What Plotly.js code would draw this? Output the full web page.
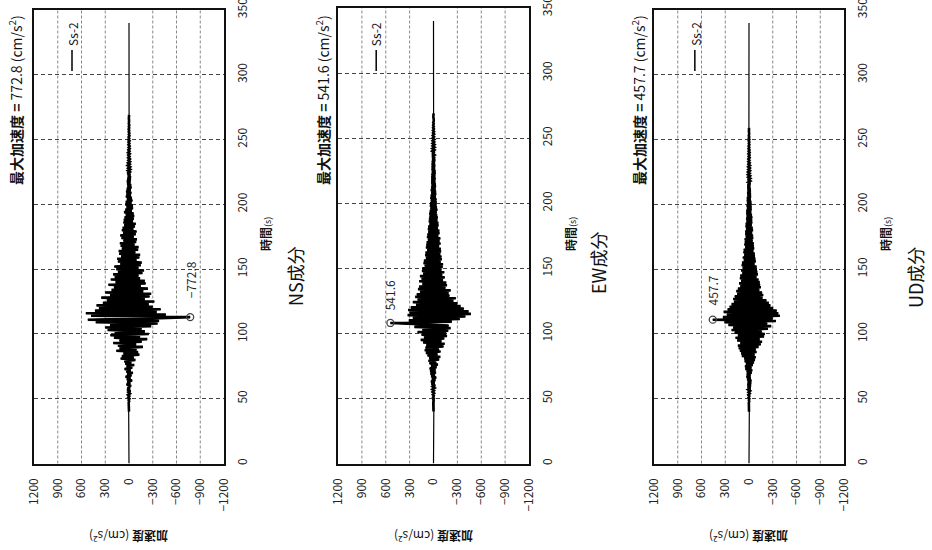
<!DOCTYPE html>
<html>
<head>
<meta charset="utf-8">
<script src="https://cdn.plot.ly/plotly-3.0.1.min.js"></script>
<style>html,body{margin:0;padding:0;background:#fff;}#chart{width:932px;height:550px;}</style>
</head>
<body>
<div id="chart"></div>
<script>
// ---- data ----
const COMPONENTS = ['NS成分', 'EW成分', 'UD成分'];
const LEGEND_NAME = 'Ss-2';
const PEAK_VALUES = [-772.8, 541.6, 457.7];
const PEAK_TIMES = [113, 108, 111];
const T_START = 40, T_STEP = 1, T_END = 340;
const ACC_TICKS = [1200, 900, 600, 300, 0, -300, -600, -900, -1200];
const ACC_LABELS = ['1200', '900', '600', '300', '0', '−300', '−600', '−900', '−1200'];
const ACC_GRID = [900, 600, 300, -300, -600, -900];
const TIME_TICKS = [0, 50, 100, 150, 200, 250, 300, 350];

const NS_ACC = [
  0,1,-1,2,-1,3,-2,4,-3,5,
  -6,10,-4,14,-12,8,-18,22,-10,16,
  -25,30,-14,20,-38,26,-18,42,-30,22,
  -48,35,-20,55,-40,30,-65,48,-28,60,
  -80,105,-60,90,-130,70,-115,160,-95,120,
  -175,140,-90,200,-160,120,-230,190,-140,235,
  -250,180,-200,270,-160,300,-280,240,-360,420,
  -380,520,-300,-772.8,480,-465,545,-350,430,-400,
  380,-300,410,-250,330,-320,280,-200,350,-260,
  240,-280,300,-180,220,-240,190,-150,260,-210,
  170,-200,230,-140,180,-120,200,-170,140,-190,
  160,-120,185,-150,110,-160,140,-95,150,-130,
  100,-140,125,-80,130,-115,90,-120,105,-70,
  115,-90,70,-100,95,-60,110,-85,75,-95,
  90,-55,80,-75,60,-85,70,-50,65,-60,
  55,-65,40,-58,62,-35,45,-50,30,-48,
  45,-30,40,-42,25,-35,38,-22,30,-28,
  35,-20,26,-30,18,-25,22,-16,24,-20,
  18,-22,12,-16,20,-10,14,-15,10,-13,
  16,-9,12,-12,8,-11,10,-7,9,-10,
  12,-6,8,-9,5,-8,7,-5,6,-7,
  8,-4,5,-6,3,-5,4,-3,5,-3,
  3,-4,2,-2,3,-1,2,-1,1,-1
];
const EW_ACC = [
  0,1,-1,1,-2,1,-2,3,-2,3,
  -5,6,-4,9,-8,12,-6,15,-14,10,
  -20,24,-12,30,-22,18,-32,28,-16,36,
  -30,42,-24,48,-38,30,-55,50,-35,62,
  -70,55,-85,75,-50,95,-88,110,-70,100,
  -125,90,-140,130,-100,160,-135,120,-170,150,
  -160,200,-185,140,-215,240,-190,280,541.6,-230,
  310,-330,260,-400,325,-470,300,-440,320,-380,
  285,-340,220,-300,260,-250,200,-280,230,-200,
  210,-190,170,-215,195,-150,180,-170,140,-160,
  180,-120,150,-140,170,-110,130,-135,145,-100,
  140,-115,110,-120,125,-90,120,-105,95,-100,
  105,-85,100,-95,80,-92,95,-70,90,-88,
  85,-75,70,-85,82,-60,76,-75,65,-72,
  70,-55,66,-62,50,-60,58,-48,56,-54,
  50,-45,52,-40,46,-48,38,-42,44,-36,
  40,-38,32,-36,38,-28,33,-32,26,-30,
  32,-24,28,-29,22,-26,27,-20,25,-24,
  25,-20,23,-24,18,-22,21,-16,20,-19,
  20,-15,18,-19,14,-17,16,-12,16,-14,
  15,-11,14,-13,10,-12,12,-8,11,-10,
  10,-7,9,-8,6,-7,7,-5,6,-4,
  5,-3,4,-3,2,-2,2,-1,1,-1
];
const UD_ACC = [
  0,1,-1,1,-1,2,-1,2,-3,2,
  -5,6,-4,9,-10,7,-14,12,-18,15,
  -22,18,-25,14,-28,22,-20,30,-18,26,
  -32,28,-40,45,-30,50,-48,38,-62,55,
  -75,60,-85,90,-70,100,-95,115,-85,130,
  -120,140,-150,110,-165,150,-135,170,-190,140,
  -200,180,-160,220,-240,200,-280,260,-230,310,
  -340,457.7,-300,330,-390,280,-370,320,-350,270,
  -305,245,-270,220,-250,190,-220,200,-170,180,
  -180,150,-165,160,-130,140,-150,110,-140,125,
  -135,100,-120,115,-95,110,-112,85,-105,100,
  -100,80,-95,92,-70,88,-85,65,-80,78,
  -75,60,-72,70,-55,66,-64,48,-60,58,
  -58,52,-45,54,-52,40,-50,46,-38,48,
  -50,36,-45,42,-34,40,-40,30,-38,35,
  -40,28,-35,33,-26,32,-31,24,-30,28,
  -30,22,-27,25,-19,24,-23,17,-21,20,
  -20,15,-18,18,-12,16,-16,11,-15,14,
  -15,10,-13,13,-9,12,-12,8,-11,10,
  -12,7,-9,9,-6,8,-8,5,-7,7,
  -8,5,-6,6,-4,5,-5,3,-4,4,
  -5,3,-3,3,-2,2,-2,1,-1,1
];
const SERIES = [NS_ACC, EW_ACC, UD_ACC];

// ---- layout geometry (pixels of the 932x550 page) ----
const W = 932, H = 550;
const PANELS = [
  {left: 34,  right: 224, top: 10, bottom: 463.5, titleDx: -19},
  {left: 338, right: 529, top: 8,  bottom: 463.5, titleDx: -16},
  {left: 654, right: 844, top: 10, bottom: 463.5, titleDx: -16}
];
const COMP_POS = [{dx: 71, cy: 276}, {dx: 69, cy: 263}, {dx: 71, cy: 278}];
const PEAK_SHIFT = [37, 28, 29];
const LEGEND_X = [0.2, 0.2, 0.215];
const FONT = '"Noto Sans CJK JP", "Noto Sans", sans-serif';

const traces = [];
const layout = {
  width: W, height: H,
  margin: {l: 0, r: 0, t: 0, b: 0},
  paper_bgcolor: '#fff', plot_bgcolor: '#fff',
  showlegend: false,
  font: {family: FONT, color: '#222'},
  annotations: [], shapes: []
};

SERIES.forEach((vals, i) => {
  const n = i === 0 ? '' : String(i + 1);
  const xa = 'x' + n, ya = 'y' + n;
  const p = PANELS[i];
  const sampleTimes = vals.map((_, k) => T_START + k * T_STEP);
  const times = [0].concat(sampleTimes, [T_END]);
  const accs = [0].concat(vals, [0]);
  // thin full-length record (incl. quiet lead-in and tail)
  traces.push({
    type: 'scatter', mode: 'lines', x: accs, y: times, xaxis: xa, yaxis: ya,
    line: {color: '#000', width: 1.2}, hoverinfo: 'skip', name: LEGEND_NAME
  });
  // same samples stroked wider so the dense record reads as a solid band
  traces.push({
    type: 'scatter', mode: 'lines', x: vals, y: sampleTimes, xaxis: xa, yaxis: ya,
    line: {color: '#000', width: 2.6}, hoverinfo: 'skip', name: LEGEND_NAME
  });
  traces.push({
    type: 'scatter', mode: 'markers', x: [PEAK_VALUES[i]], y: [PEAK_TIMES[i]], xaxis: xa, yaxis: ya,
    marker: {symbol: 'circle-open', size: 7, color: '#444', line: {width: 1.3, color: '#444'}},
    hoverinfo: 'skip'
  });
  const dx = [p.left / W, p.right / W];
  const dy = [1 - p.bottom / H, 1 - p.top / H];
  layout['xaxis' + n] = {
    domain: dx, range: [1200, -1200], anchor: ya,
    tickmode: 'array', tickvals: ACC_TICKS, ticktext: ACC_LABELS,
    tickangle: -90, ticks: 'outside', ticklen: 8, tickcolor: 'rgba(0,0,0,0)',
    tickfont: {size: 12, color: '#222', family: FONT},
    showgrid: false, zeroline: false, ticklabeloverflow: 'allow',
    showline: true, mirror: true, linecolor: '#111', linewidth: 2, fixedrange: true
  };
  layout['yaxis' + n] = {
    domain: dy, range: [0, 350], anchor: xa, side: 'right',
    tickmode: 'array', tickvals: TIME_TICKS,
    tickangle: -90, ticks: 'outside', ticklen: 7, tickcolor: 'rgba(0,0,0,0)',
    tickfont: {size: 12, color: '#222', family: FONT},
    showgrid: true, gridcolor: '#444', griddash: '4px,3px', gridwidth: 1,
    zeroline: false, ticklabeloverflow: 'allow',
    showline: true, mirror: true, linecolor: '#111', linewidth: 2, fixedrange: true
  };
  ACC_GRID.forEach(v => {
    layout.shapes.push({type: 'line', xref: xa, yref: ya + ' domain', x0: v, x1: v, y0: 0, y1: 1,
      layer: 'below', line: {color: '#888', width: 1, dash: '3px,2px'}});
  });
  const pw = p.right - p.left, ph = p.bottom - p.top;
  // legend sample line
  layout.shapes.push({type: 'line', xref: xa + ' domain', yref: ya + ' domain',
    x0: LEGEND_X[i], x1: LEGEND_X[i], y0: (p.bottom - 71) / ph, y1: (p.bottom - 50) / ph,
    line: {color: '#000', width: 1.5}});
  const peakAbs = Math.abs(PEAK_VALUES[i]).toFixed(1);
  const peakLabel = (PEAK_VALUES[i] < 0 ? '−' : '') + peakAbs;
  const ann = layout.annotations;
  // top title (rotated)
  ann.push({xref: xa + ' domain', yref: ya + ' domain', x: p.titleDx / pw, y: (p.bottom - 13) / ph,
    xanchor: 'center', yanchor: 'top', textangle: -90, showarrow: false,
    text: '<b>最大加速度 =</b> ' + peakAbs + ' (cm/s<sup>2</sup>)', font: {size: 14, color: '#111'}});
  // time axis title
  ann.push({xref: xa + ' domain', yref: ya + ' domain', x: 1 + 41 / pw, y: (p.bottom - 234) / ph,
    xanchor: 'center', yanchor: 'middle', textangle: -90, showarrow: false,
    text: '<b>時間</b><span style="font-size:9px">(s)</span>', font: {size: 12, color: '#111'}});
  // component name
  ann.push({xref: xa + ' domain', yref: ya + ' domain', x: 1 + COMP_POS[i].dx / pw, y: (p.bottom - COMP_POS[i].cy) / ph,
    xanchor: 'center', yanchor: 'middle', textangle: -90, showarrow: false,
    text: COMPONENTS[i], font: {size: 18, color: '#111'}});
  // acceleration axis title (upside down)
  ann.push({xref: xa + ' domain', yref: ya + ' domain', x: 0.5, y: -73.5 / ph,
    xanchor: 'center', yanchor: 'middle', textangle: 180, showarrow: false,
    text: '<b>加速度</b> (cm/s<sup>2</sup>)', font: {size: 12, color: '#111'}});
  // legend text
  ann.push({xref: xa + ' domain', yref: ya + ' domain', x: LEGEND_X[i], y: (p.bottom - 34) / ph,
    xanchor: 'center', yanchor: 'middle', textangle: -90, showarrow: false,
    text: LEGEND_NAME, font: {size: 12, color: '#111'}});
  // peak label
  ann.push({xref: xa, yref: ya, x: PEAK_VALUES[i], y: PEAK_TIMES[i], yshift: PEAK_SHIFT[i],
    xanchor: 'center', yanchor: 'middle', textangle: -90, showarrow: false,
    text: peakLabel, font: {size: 12, color: '#222'}});
});

Plotly.newPlot('chart', traces, layout, {staticPlot: true, displayModeBar: false});
</script>
</body>
</html>
